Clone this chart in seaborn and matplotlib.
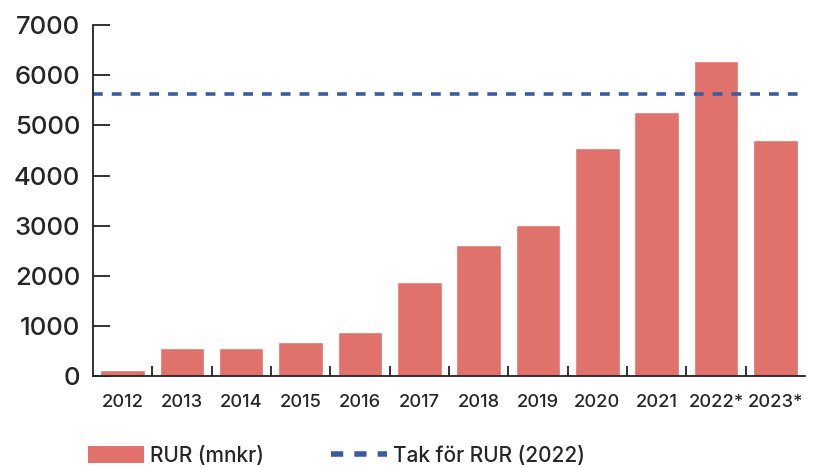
import numpy as np
import pandas as pd
import matplotlib
matplotlib.use("Agg")
import matplotlib.pyplot as plt
import seaborn as sns
from matplotlib.ticker import FixedLocator
from matplotlib.patches import Patch
from matplotlib.lines import Line2D

years = ["2012", "2013", "2014", "2015", "2016", "2017", "2018", "2019",
         "2020", "2021", "2022*", "2023*"]
rur = [125, 565, 565, 672, 884, 1875, 2613, 3012, 4541, 5265, 6282, 4707]
tak = 5618

sns.set_style("white")
plt.rcParams['font.family'] = ['Inter', 'DejaVu Sans']
plt.rcParams['font.weight'] = 'medium'

bar_col = "#e1716b"
line_col = "#3b5ba1"

df = pd.DataFrame({"year": years, "rur": rur})

fig = plt.figure(figsize=(8.14, 4.67), dpi=100)
ax = fig.add_axes([0.114, 0.195, 0.875, 0.751])

sns.barplot(data=df, x="year", y="rur", color=bar_col, width=0.75,
            saturation=1, ax=ax)
ax.hlines(tak, -0.5, 11.4, colors=line_col, linestyles=(0, (2.7, 2.5)),
          linewidth=2.6)

ax.set_xlim(-0.5, 11.5)
ax.set_ylim(0, 7000)
ax.set_yticks(range(0, 7001, 1000))
ax.set_xlabel("")
ax.set_ylabel("")

for s in ["top", "right"]:
    ax.spines[s].set_visible(False)
for s in ["left", "bottom"]:
    ax.spines[s].set_color("#222222")
    ax.spines[s].set_linewidth(1.3)

ax.tick_params(axis="y", direction="in", length=12, width=1.3, color="#222222",
               labelsize=18.5, pad=9, left=True)
ax.tick_params(axis="x", which="major", length=0, labelsize=13.2, pad=13)
ax.xaxis.set_minor_locator(FixedLocator(np.arange(0.5, 11, 1)))
ax.tick_params(axis="x", which="minor", direction="in", length=7, width=1.3,
               color="#222222", bottom=True)

handles = [Patch(facecolor=bar_col, edgecolor="none"),
           Line2D([], [], color=line_col, linewidth=4, linestyle=(0, (2.2, 2)))]
labels = ["RUR (mnkr)", "Tak för RUR (2022)"]
fig.legend(handles, labels, loc="lower left", bbox_to_anchor=(0.085, -0.038),
           ncol=2, frameon=False, fontsize=15, columnspacing=3.2,
           handlelength=2.7, handleheight=0.9, handletextpad=0.3)

fig.savefig("out.png", dpi=100)
